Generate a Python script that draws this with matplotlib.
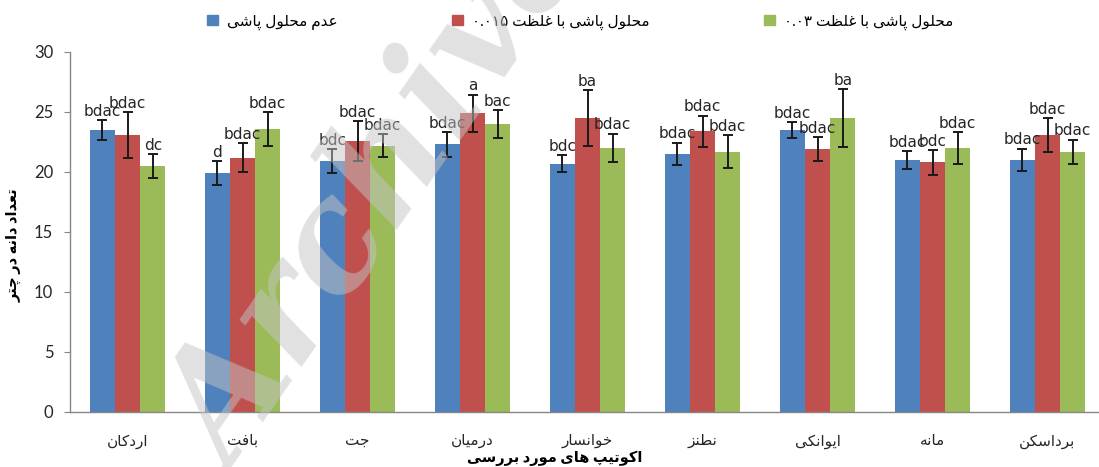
import re
import numpy as np
import matplotlib
matplotlib.use('Agg')
import matplotlib.pyplot as plt
from matplotlib.patches import Patch

plt.rcParams['font.family'] = ['Lato', 'DejaVu Sans']

# ------- data ---------------------------------------------------------------
categories = ['اردکان', 'بافت', 'جت', 'درمیان', 'خوانسار',
              'نطنز', 'ایوانکی', 'مانه', 'برداسکن']
series_names = ['عدم محلول پاشی',
                'محلول پاشی با غلظت ۰.۰۱۵',
                'محلول پاشی با غلظت ۰.۰۳']

no_spray = [23.5, 19.9, 20.9, 22.3, 20.7, 21.5, 23.5, 21.0, 21.0]
no_spray_err = [0.8, 1.0, 1.0, 1.05, 0.7, 0.95, 0.65, 0.75, 0.95]
no_spray_letters = ['bdac', 'd', 'bdc', 'bdac', 'bdc',
                    'bdac', 'bdac', 'bdac', 'bdac']

spray_015 = [23.1, 21.2, 22.6, 24.9, 24.5, 23.4, 21.9, 20.8, 23.1]
spray_015_err = [1.9, 1.2, 1.65, 1.55, 2.3, 1.3, 1.0, 1.05, 1.4]
spray_015_letters = ['bdac', 'bdac', 'bdac', 'a', 'ba',
                     'bdac', 'bdac', 'bdc', 'bdac']

spray_03 = [20.5, 23.6, 22.2, 24.0, 22.0, 21.7, 24.5, 22.0, 21.7]
spray_03_err = [1.0, 1.4, 0.95, 1.15, 1.2, 1.4, 2.4, 1.35, 1.0]
spray_03_letters = ['dc', 'bdac', 'bdac', 'bac', 'bdac',
                    'bdac', 'ba', 'bdac', 'bdac']

colors = ['#4F81BD', '#C0504D', '#9BBB59']

# ------- simple persian shaping (matplotlib has no bidi support) -------------
# letter: (isolated, final, initial, medial)
FORMS = {
    'ا': ('\uFE8D', '\uFE8E', None, None),
    'ب': ('\uFE8F', '\uFE90', '\uFE91', '\uFE92'),
    'پ': ('\uFB56', '\uFB57', '\uFB58', '\uFB59'),
    'ت': ('\uFE95', '\uFE96', '\uFE97', '\uFE98'),
    'ج': ('\uFE9D', '\uFE9E', '\uFE9F', '\uFEA0'),
    'چ': ('\uFB7A', '\uFB7B', '\uFB7C', '\uFB7D'),
    'ح': ('\uFEA1', '\uFEA2', '\uFEA3', '\uFEA4'),
    'خ': ('\uFEA5', '\uFEA6', '\uFEA7', '\uFEA8'),
    'د': ('\uFEA9', '\uFEAA', None, None),
    'ر': ('\uFEAD', '\uFEAE', None, None),
    'ز': ('\uFEAF', '\uFEB0', None, None),
    'س': ('\uFEB1', '\uFEB2', '\uFEB3', '\uFEB4'),
    'ش': ('\uFEB5', '\uFEB6', '\uFEB7', '\uFEB8'),
    'ط': ('\uFEC1', '\uFEC2', '\uFEC3', '\uFEC4'),
    'ظ': ('\uFEC5', '\uFEC6', '\uFEC7', '\uFEC8'),
    'ع': ('\uFEC9', '\uFECA', '\uFECB', '\uFECC'),
    'غ': ('\uFECD', '\uFECE', '\uFECF', '\uFED0'),
    'ف': ('\uFED1', '\uFED2', '\uFED3', '\uFED4'),
    'ک': ('\uFB8E', '\uFB8F', '\uFB90', '\uFB91'),
    'ل': ('\uFEDD', '\uFEDE', '\uFEDF', '\uFEE0'),
    'م': ('\uFEE1', '\uFEE2', '\uFEE3', '\uFEE4'),
    'ن': ('\uFEE5', '\uFEE6', '\uFEE7', '\uFEE8'),
    'ه': ('\uFEE9', '\uFEEA', '\uFEEB', '\uFEEC'),
    'و': ('\uFEED', '\uFEEE', None, None),
    'ی': ('\uFBFC', '\uFBFD', '\uFBFE', '\uFBFF'),
}


def fa(text):
    """Shape persian text and put it in visual (left to right) order."""
    out = []
    for i, c in enumerate(text):
        if c not in FORMS:
            out.append(c)
            continue
        iso, fin, ini, med = FORMS[c]
        prev = text[i - 1] if i > 0 else ''
        nxt = text[i + 1] if i + 1 < len(text) else ''
        joins_prev = prev in FORMS and FORMS[prev][2] is not None
        joins_next = ini is not None and nxt in FORMS
        if joins_prev and joins_next:
            out.append(med)
        elif joins_prev:
            out.append(fin)
        elif joins_next:
            out.append(ini)
        else:
            out.append(iso)
    vis = ''.join(out)[::-1]
    # numbers keep left to right order
    return re.sub(r'[۰-۹0-9.]+', lambda m: m.group(0)[::-1], vis)


# ------- plot -----------------------------------------------------------------
fig = plt.figure(figsize=(10.99, 4.67), dpi=100)
ax = fig.add_axes([70 / 1099, 55 / 467, 1035 / 1099, 360 / 467])

x = np.arange(len(categories))
w = 0.22
values = [no_spray, spray_015, spray_03]
errors = [no_spray_err, spray_015_err, spray_03_err]
letters = [no_spray_letters, spray_015_letters, spray_03_letters]

for si in range(3):
    xs = x + (si - 1) * w
    ax.bar(xs, values[si], width=w, color=colors[si], zorder=2)
    ax.errorbar(xs, values[si], yerr=errors[si], fmt='none',
                ecolor='#1a1a1a', elinewidth=1.4, capsize=3.5,
                capthick=1.4, zorder=3)
    for xi, v, e, t in zip(xs, values[si], errors[si], letters[si]):
        ax.text(xi, v + e + 0.1, t, ha='center', va='bottom',
                fontsize=11, family='DejaVu Sans', color='#262626',
                zorder=4)

ax.set_xlim(-0.5, len(categories) - 0.5)
ax.set_ylim(0, 30)
ax.set_yticks(range(0, 31, 5))
ax.tick_params(axis='y', labelsize=12, length=4, color='#868686',
               labelcolor='#262626', pad=8)
ax.set_xticks(x)
ax.set_xticklabels([fa(c) for c in categories], fontsize=11,
                   color='#262626')
ax.tick_params(axis='x', length=0, pad=16)
for s in ['top', 'right']:
    ax.spines[s].set_visible(False)
for s in ['left', 'bottom']:
    ax.spines[s].set_color('#868686')
    ax.spines[s].set_linewidth(1.0)

fig.text(555 / 1099, 1 - 458 / 467, fa('اکوتیپ های مورد بررسی'),
         ha='center', va='center', fontsize=10.5, weight='bold')
fig.text(14 / 1099, 1 - 245 / 467, fa('تعداد دانه در چتر'),
         ha='center', va='center', fontsize=10.5, weight='bold',
         rotation=90)

handles = [Patch(color=c) for c in colors]
fig.legend(handles, [fa(n) for n in series_names], loc='center',
           bbox_to_anchor=(580 / 1099, 1 - 22 / 467), ncol=3,
           frameon=False, fontsize=11, handlelength=0.7,
           handleheight=0.7, columnspacing=7.5, handletextpad=0.6)

# watermark
fig.text(0.35, 0.585, 'Archive', rotation=55, fontsize=108,
         family='DejaVu Serif', style='italic', weight='bold',
         color='#c4c4c4', alpha=0.5, ha='center', va='center',
         zorder=10)

fig.savefig('out.png', dpi=100)
